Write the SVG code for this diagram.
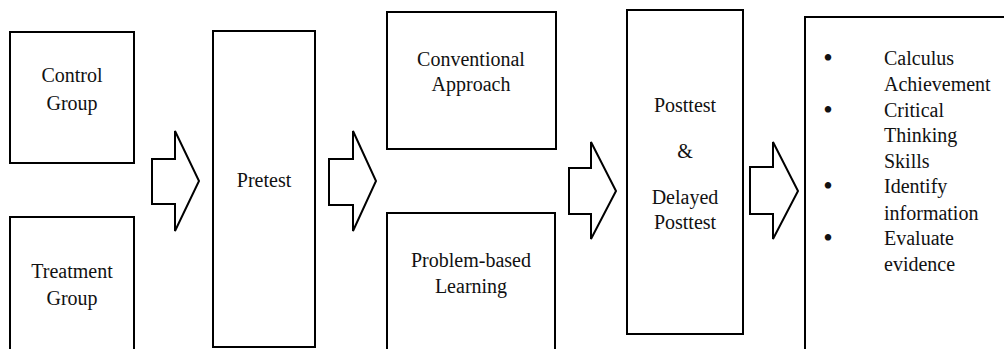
<svg xmlns="http://www.w3.org/2000/svg" width="1004" height="349" viewBox="0 0 1004 349">
<style>
.box{fill:#fff;stroke:#000;stroke-width:2}
.arr{fill:#fff;stroke:#000;stroke-width:2;stroke-linejoin:miter}
.t{font-family:'Liberation Serif','Times New Roman','DejaVu Serif',serif;font-size:20px;fill:#111}
.c{text-anchor:middle}
.b{font-size:27px}
</style>
<rect width="1004" height="349" fill="#fff"/>
<g id="control-group" class="t">
<rect class="box" x="10" y="32" width="124" height="131"/>
<text class="c" x="72" y="82">Control</text>
<text class="c" x="72" y="110">Group</text>
</g>
<g id="treatment-group" class="t">
<rect class="box" x="10" y="217" width="124" height="140"/>
<text class="c" x="72" y="278">Treatment</text>
<text class="c" x="72" y="305">Group</text>
</g>
<g id="pretest" class="t">
<rect class="box" x="213" y="31" width="102" height="316"/>
<text class="c" x="264" y="187">Pretest</text>
</g>
<g id="conventional" class="t">
<rect class="box" x="387" y="12" width="169" height="137"/>
<text class="c" x="471" y="66">Conventional</text>
<text class="c" x="471" y="91">Approach</text>
</g>
<g id="pbl" class="t">
<rect class="box" x="387" y="213" width="168" height="145"/>
<text class="c" x="471" y="267">Problem-based</text>
<text class="c" x="471" y="293">Learning</text>
</g>
<g id="posttest" class="t">
<rect class="box" x="627" y="10" width="116" height="324"/>
<text class="c" x="685" y="112">Posttest</text>
<text class="c" x="685" y="158">&amp;</text>
<text class="c" x="685" y="204">Delayed</text>
<text class="c" x="685" y="229">Posttest</text>
</g>
<g id="outcomes" class="t">
<rect class="box" x="805" y="17" width="210" height="340"/>
<text class="c b" x="828" y="67">•</text>
<text x="884" y="65">Calculus</text>
<text x="884" y="91">Achievement</text>
<text class="c b" x="828" y="119">•</text>
<text x="884" y="117">Critical</text>
<text x="884" y="142">Thinking</text>
<text x="884" y="168">Skills</text>
<text class="c b" x="828" y="195">•</text>
<text x="884" y="193">Identify</text>
<text x="884" y="220">information</text>
<text class="c b" x="828" y="247">•</text>
<text x="884" y="245">Evaluate</text>
<text x="884" y="271">evidence</text>
</g>
<g id="connectors">
<polygon class="arr" points="152,159 175,159 175,131 199,181 175,231 175,204 152,204"/>
<polygon class="arr" points="329,159 353,159 353,131 376,181 353,231 353,205 329,205"/>
<polygon class="arr" points="569,168 591,168 591,142 616,191 591,239 591,214 569,214"/>
<polygon class="arr" points="750,167 773,167 773,142 798,191 773,239 773,214 750,214"/>
</g>
</svg>
